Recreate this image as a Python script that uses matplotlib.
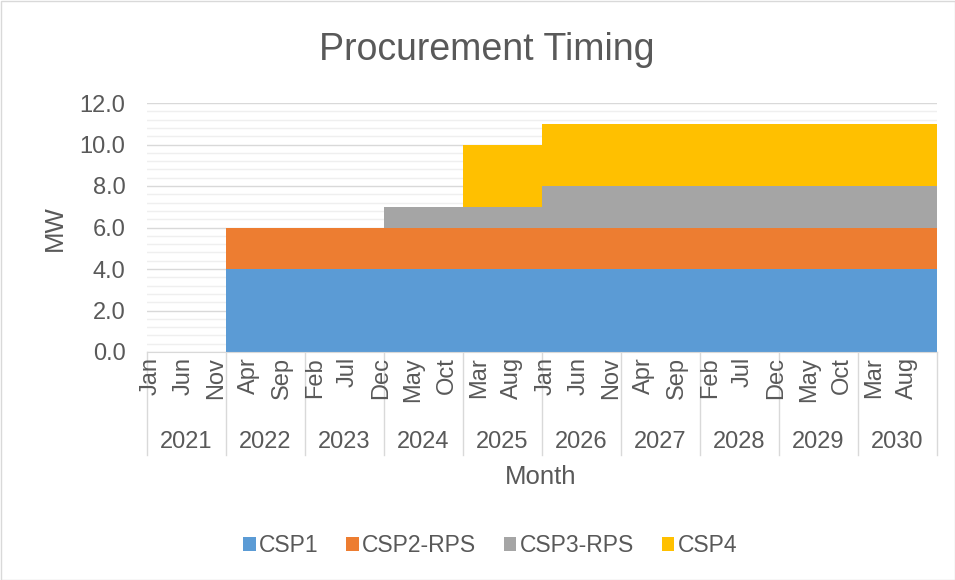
import numpy as np
import matplotlib
matplotlib.use("Agg")
import matplotlib.pyplot as plt
from matplotlib.patches import Rectangle

plt.rcParams['font.family'] = ['Liberation Sans', 'DejaVu Sans']

years = [2021, 2022, 2023, 2024, 2025, 2026, 2027, 2028, 2029, 2030]
month_names = ["Jan", "Feb", "Mar", "Apr", "May", "Jun", "Jul", "Aug", "Sep", "Oct", "Nov", "Dec"]
series_names = ["CSP1", "CSP2-RPS", "CSP3-RPS", "CSP4"]
# MW per year (constant across the months of each year)
csp1 = [0, 4, 4, 4, 4, 4, 4, 4, 4, 4]
csp2 = [0, 2, 2, 2, 2, 2, 2, 2, 2, 2]
csp3 = [0, 0, 0, 1, 1, 2, 2, 2, 2, 2]
csp4 = [0, 0, 0, 0, 3, 3, 3, 3, 3, 3]
colors = ["#5B9BD5", "#ED7D31", "#A5A5A5", "#FFC000"]
txt = "#595959"

n_months = len(years) * 12
monthly = [np.repeat(s, 12) for s in (csp1, csp2, csp3, csp4)]
x = np.arange(n_months + 1)
monthly_ext = [np.append(m, m[-1]) for m in monthly]

fig = plt.figure(figsize=(9.55, 5.8), dpi=100)
ax = fig.add_axes([147/955, 1-352/580, 790/955, 249/580])

ax.stackplot(x, *monthly_ext, colors=colors, labels=series_names, step='post', linewidth=0, zorder=3)

ax.set_xlim(0, n_months)
ax.set_ylim(0, 12)
ax.set_yticks(np.arange(0, 12.01, 2))
ax.set_yticklabels([f"{v:.1f}" for v in np.arange(0, 12.01, 2)])
ax.set_yticks(np.arange(0, 12.01, 0.4), minor=True)
ax.grid(axis='y', which='major', color='#D9D9D9', linewidth=1.0, zorder=0)
ax.grid(axis='y', which='minor', color='#EFEFEF', linewidth=1.0, zorder=0)
ax.tick_params(axis='y', which='both', length=0, labelsize=17, labelcolor=txt, pad=15.5)
ax.tick_params(axis='x', which='both', length=0)
ax.set_xticks([])
for s in ['left', 'right', 'top']:
    ax.spines[s].set_visible(False)
ax.spines['bottom'].set_color('#D9D9D9')
ax.spines['bottom'].set_zorder(4)

trans = ax.get_xaxis_transform()
# month labels
for i in range(0, n_months, 5):
    ax.text(i + 0.5, -0.02, month_names[i % 12], rotation=90, ha='center', va='top',
            fontsize=17, color=txt, transform=trans)
# year labels and separators
for k, yr in enumerate(years):
    ax.text(k * 12 + 6, -0.362, str(yr), ha='center', va='center', fontsize=17, color=txt, transform=trans)
for k in range(len(years) + 1):
    ax.plot([k * 12, k * 12], [0, -0.415], color='#D9D9D9', linewidth=1.0, transform=trans, clip_on=False)

fig.text(541/955, 1-477/580, "Month", ha='center', va='center', fontsize=18.5, color=txt)
fig.text(55/955, 1-228/580, "MW", ha='center', va='center', rotation=90, fontsize=18.5, color=txt)

fig.text(487/955, 1-50/580, "Procurement Timing", ha='center', va='center', fontsize=27, color=txt)

handles, labels = ax.get_legend_handles_labels()
fig.legend(handles, labels, loc='center', bbox_to_anchor=(490/955, 1-546/580), ncol=4, frameon=False,
           fontsize=16.5, labelcolor=txt, handlelength=0.55, handleheight=0.55, handletextpad=0.15, columnspacing=1.2)

fig.patches.append(Rectangle((0.5/955, 0.5/580), 1-1/955, 1-1/580, transform=fig.transFigure,
                             fill=False, edgecolor='#D9D9D9', linewidth=1.0))

fig.savefig("out.png", dpi=100)
